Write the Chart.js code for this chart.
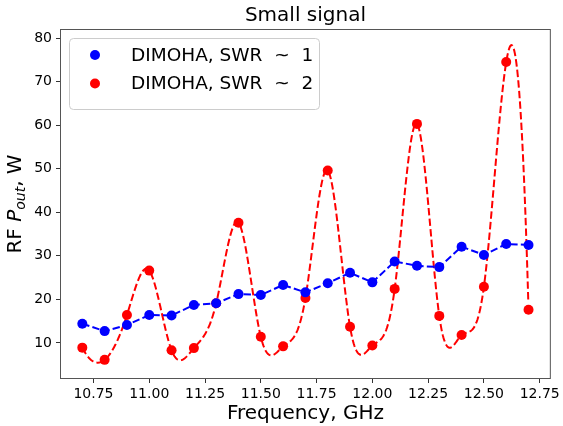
<!DOCTYPE html>
<html><head><meta charset="utf-8">
<script src="https://cdn.jsdelivr.net/npm/chart.js@4.4.1/dist/chart.umd.min.js"></script>
<style>html,body{margin:0;padding:0;background:#fff;}canvas{display:block;}</style>
</head><body>
<canvas id="c" width="563" height="426"></canvas>
<script>
const frequencies = [10.7, 10.8, 10.9, 11.0, 11.1, 11.2, 11.3, 11.4, 11.5, 11.6, 11.7, 11.8, 11.9, 12.0, 12.1, 12.2, 12.3, 12.4, 12.5, 12.6, 12.7];
const swr1Power = [14.4, 12.7, 14.1, 16.4, 16.3, 18.7, 19.1, 21.2, 21.0, 23.3, 21.6, 23.7, 26.1, 23.9, 28.7, 27.7, 27.4, 32.1, 30.2, 32.7, 32.5];
const swr2Power = [8.9, 6.1, 16.4, 26.6, 8.3, 8.8, 19.1, 37.6, 11.4, 9.2, 20.3, 49.6, 13.7, 9.4, 22.4, 60.3, 16.2, 11.8, 22.9, 74.5, 17.6];
const xTickValues = [10.75, 11.0, 11.25, 11.5, 11.75, 12.0, 12.25, 12.5, 12.75];
const yTickValues = [10, 20, 30, 40, 50, 60, 70, 80];
const seriesLabels = ['DIMOHA, SWR  ~  1', 'DIMOHA, SWR  ~  2'];
const titleText = 'Small signal';
const xAxisLabel = 'Frequency, GHz';
const yAxisLabelParts = ['RF ', 'P', 'out', ', W'];

const FONT = "'DejaVu Sans', sans-serif";

// not-a-knot cubic spline through the plotted points (rendering of the dashed curve)
function buildSpline(xs, ys) {
  const n = xs.length;
  const h = [];
  for (let i = 0; i < n - 1; i++) h.push(xs[i + 1] - xs[i]);
  const A = [], b = [];
  for (let i = 0; i < n; i++) { A.push(new Array(n).fill(0)); b.push(0); }
  A[0][0] = -h[1]; A[0][1] = h[0] + h[1]; A[0][2] = -h[0];
  for (let i = 1; i < n - 1; i++) {
    A[i][i - 1] = h[i - 1];
    A[i][i] = 2 * (h[i - 1] + h[i]);
    A[i][i + 1] = h[i];
    b[i] = 6 * ((ys[i + 1] - ys[i]) / h[i] - (ys[i] - ys[i - 1]) / h[i - 1]);
  }
  A[n - 1][n - 3] = h[n - 2]; A[n - 1][n - 2] = -(h[n - 3] + h[n - 2]); A[n - 1][n - 1] = h[n - 3];
  for (let c = 0; c < n; c++) {
    let p = c;
    for (let r = c + 1; r < n; r++) if (Math.abs(A[r][c]) > Math.abs(A[p][c])) p = r;
    [A[c], A[p]] = [A[p], A[c]]; [b[c], b[p]] = [b[p], b[c]];
    for (let r = c + 1; r < n; r++) {
      const f = A[r][c] / A[c][c];
      if (!f) continue;
      for (let k = c; k < n; k++) A[r][k] -= f * A[c][k];
      b[r] -= f * b[c];
    }
  }
  const M = new Array(n).fill(0);
  for (let r = n - 1; r >= 0; r--) {
    let s = b[r];
    for (let k = r + 1; k < n; k++) s -= A[r][k] * M[k];
    M[r] = s / A[r][r];
  }
  return function (x) {
    let i = 0;
    while (i < n - 2 && x > xs[i + 1]) i++;
    const hi = h[i], a = xs[i + 1] - x, d = x - xs[i];
    return M[i] * a * a * a / (6 * hi) + M[i + 1] * d * d * d / (6 * hi) +
      (ys[i] / hi - M[i] * hi / 6) * a + (ys[i + 1] / hi - M[i + 1] * hi / 6) * d;
  };
}

const splinePlugin = {
  id: 'splineCurve',
  beforeDatasetDraw(chart, args) {
    if (args.index !== 1) return;
    const ds = chart.data.datasets[1];
    const xs = ds.data.map(p => p.x), ys = ds.data.map(p => p.y);
    const S = buildSpline(xs, ys);
    const xs_ = chart.scales.x, ys_ = chart.scales.y, ca = chart.chartArea;
    const ctx = chart.ctx;
    ctx.save();
    ctx.beginPath(); ctx.rect(ca.left, ca.top, ca.right - ca.left, ca.bottom - ca.top); ctx.clip();
    ctx.beginPath();
    const p0 = xs_.getPixelForValue(xs[0]), p1 = xs_.getPixelForValue(xs[xs.length - 1]);
    for (let px = p0; px <= p1 + 0.001; px += 0.5) {
      const xv = xs_.getValueForPixel(Math.min(px, p1));
      const py = ys_.getPixelForValue(S(xv));
      if (px === p0) ctx.moveTo(px, py); else ctx.lineTo(px, py);
    }
    ctx.setLineDash([7.4, 3.2]);
    ctx.lineWidth = 2;
    ctx.strokeStyle = ds.borderColor;
    ctx.lineJoin = 'round';
    ctx.stroke();
    ctx.restore();
  }
};

const decorPlugin = {
  id: 'decor',
  afterDraw(chart) {
    const ctx = chart.ctx, ca = chart.chartArea;
    ctx.save();
    ctx.strokeStyle = '#555';
    ctx.lineWidth = 1;
    ctx.strokeRect(ca.left + 0.5, ca.top + 0.5, ca.right - ca.left - 1, ca.bottom - ca.top - 1);
    ctx.restore();
    // y axis label with italic P and subscript
    ctx.save();
    ctx.translate(21, (ca.top + ca.bottom) / 2);
    ctx.rotate(-Math.PI / 2);
    ctx.fillStyle = '#000';
    ctx.textBaseline = 'alphabetic';
    const fonts = ['20px ' + FONT, 'italic 20px ' + FONT, 'italic 14px ' + FONT, '20px ' + FONT];
    const dy = [0, 0, 4, 0];
    let widths = yAxisLabelParts.map((t, i) => { ctx.font = fonts[i]; return ctx.measureText(t).width; });
    let x = -widths.reduce((a, c) => a + c, 0) / 2;
    yAxisLabelParts.forEach((t, i) => { ctx.font = fonts[i]; ctx.fillText(t, x, dy[i]); x += widths[i]; });
    ctx.restore();
    // legend
    ctx.save();
    const bx = 69.5, by = 38.5, bw = 250, bh = 71;
    ctx.beginPath();
    ctx.roundRect(bx, by, bw, bh, 4);
    ctx.fillStyle = 'rgba(255,255,255,0.8)';
    ctx.fill();
    ctx.strokeStyle = '#cccccc';
    ctx.lineWidth = 1;
    ctx.stroke();
    ctx.font = '18.5px ' + FONT;
    ctx.textBaseline = 'middle';
    chart.data.datasets.forEach((ds, i) => {
      const cy = 55 + i * 28.5;
      ctx.beginPath();
      ctx.arc(95, cy, 5, 0, Math.PI * 2);
      ctx.fillStyle = ds.pointBackgroundColor;
      ctx.fill();
      ctx.fillStyle = '#000';
      ctx.fillText(ds.label, 131, cy + 1);
    });
    ctx.restore();
  }
};

const toPoints = (xs, ys) => xs.map((x, i) => ({ x: x, y: ys[i] }));

new Chart(document.getElementById('c'), {
  type: 'scatter',
  data: {
    datasets: [
      {
        label: seriesLabels[0],
        data: toPoints(frequencies, swr1Power),
        showLine: true,
        borderColor: '#0000ff',
        borderWidth: 2,
        borderDash: [7.4, 3.2],
        pointRadius: 5,
        pointBorderWidth: 0,
        pointBackgroundColor: '#0000ff',
        pointHoverRadius: 5
      },
      {
        label: seriesLabels[1],
        data: toPoints(frequencies, swr2Power),
        showLine: false,
        borderColor: '#ff0000',
        pointRadius: 5,
        pointBorderWidth: 0,
        pointBackgroundColor: '#ff0000',
        pointHoverRadius: 5
      }
    ]
  },
  plugins: [splinePlugin, decorPlugin],
  options: {
    responsive: false,
    animation: false,
    devicePixelRatio: 1,
    layout: { padding: { top: 0, right: 10, bottom: 0, left: 0 } },
    plugins: {
      legend: { display: false },
      tooltip: { enabled: false },
      title: {
        display: true,
        fullSize: false,
        text: titleText,
        color: '#000',
        font: { family: FONT, size: 20, weight: 'normal' },
        padding: { top: 4, bottom: 1 }
      }
    },
    scales: {
      x: {
        type: 'linear',
        min: 10.6,
        max: 12.8,
        afterBuildTicks: s => { s.ticks = xTickValues.map(v => ({ value: v })); },
        afterFit: s => { s.height = 47; },
        ticks: {
          callback: v => Number(v).toFixed(2),
          color: '#000',
          font: { family: FONT, size: 14 },
          padding: 3,
          maxRotation: 0,
          autoSkip: false
        },
        grid: { drawOnChartArea: false, tickLength: 4, color: '#333' },
        border: { display: false },
        title: {
          display: true,
          text: xAxisLabel,
          color: '#000',
          font: { family: FONT, size: 20 },
          padding: { top: 1, bottom: 0 }
        }
      },
      y: {
        type: 'linear',
        min: 1.7,
        max: 82.1,
        afterBuildTicks: s => { s.ticks = yTickValues.map(v => ({ value: v })); },
        afterFit: s => { s.width = 60; },
        ticks: {
          color: '#000',
          font: { family: FONT, size: 14 },
          padding: 4
        },
        grid: { drawOnChartArea: false, tickLength: 4, color: '#333' },
        border: { display: false }
      }
    }
  }
});
</script>
</body></html>
